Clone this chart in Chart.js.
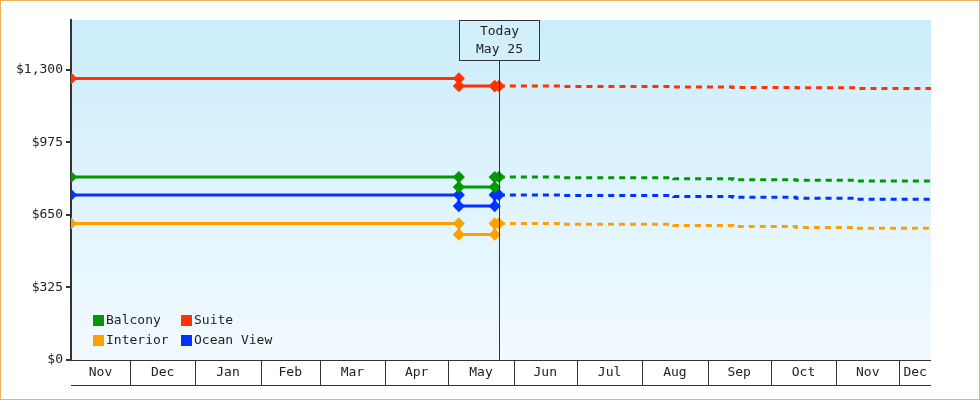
<!DOCTYPE html>
<html><head><meta charset="utf-8">
<script src="https://cdn.jsdelivr.net/npm/chart.js@4"></script>
<style>body{margin:0;background:#fff}</style></head><body>
<canvas id="c" width="980" height="400"></canvas>
<script>
// x values: days since Nov 1 (first year)
const monthLabels=["Nov","Dec","Jan","Feb","Mar","Apr","May","Jun","Jul","Aug","Sep","Oct","Nov","Dec"];
const monthStarts=[0,30,61,92,120,151,181,212,242,273,304,334,365,395];
const xMin=2, xMax=410;
const todayDay=205, todayLabel=["Today","May 25"];
const seriesNames=["Balcony","Suite","Interior","Ocean View"];
const seriesColors=["#009900","#ff3300","#ffa000","#0033ff"];
const histX=[2,186,186,203,203,205];
const balconyHist=[820,820,775,775,820,820];
const suiteHist=[1262,1262,1228,1228,1228,1228];
const interiorHist=[612,612,562,562,612,612];
const oceanHist=[740,740,690,690,740,740];
const futX=[205,234,288,316,346,374,410];
const balconyFut=[820,817,812,808,806,802,798];
const suiteFut=[1228,1226,1224,1222,1220,1217,1215];
const interiorFut=[612,608,603,598,594,590,587];
const oceanFut=[740,737,733,729,725,721,717];
const yTicks=[0,325,650,975,1300];

const hist=[balconyHist,suiteHist,interiorHist,oceanHist];
const fut=[balconyFut,suiteFut,interiorFut,oceanFut];
const FONT="13px 'DejaVu Sans Mono', monospace";
const datasets=[];
hist.forEach((h,i)=>datasets.push({label:seriesNames[i],data:h.map((v,j)=>({x:histX[j],y:v})),borderColor:seriesColors[i],backgroundColor:seriesColors[i],borderWidth:3,pointRadius:4,pointStyle:'rectRot',pointHoverRadius:4,tension:0}));
fut.forEach((f,i)=>datasets.push({label:seriesNames[i]+" forecast",data:f.map((v,j)=>({x:futX[j],y:v})),borderColor:seriesColors[i],borderWidth:3,borderDash:[6,5],pointRadius:0,stepped:true}));

const deco={id:'deco',
beforeDraw(ch){const {ctx,chartArea:a}=ch;const g=ctx.createLinearGradient(0,a.top,0,a.bottom);g.addColorStop(0,'#ccedfb');g.addColorStop(1,'#f2faff');ctx.fillStyle=g;ctx.fillRect(a.left,a.top,a.right-a.left,a.bottom-a.top);},
afterDraw(ch){const {ctx,chartArea:a,scales:{x}}=ch;ctx.save();
 // bottom month band
 ctx.strokeStyle='#333';ctx.lineWidth=1;ctx.beginPath();ctx.moveTo(a.left,a.bottom+0.5);ctx.lineTo(a.right,a.bottom+0.5);ctx.moveTo(a.left,a.bottom+25.5);ctx.lineTo(a.right,a.bottom+25.5);
 monthStarts.forEach(d=>{if(d>xMin){const px=Math.round(x.getPixelForValue(d))+0.5;ctx.moveTo(px,a.bottom);ctx.lineTo(px,a.bottom+25);}});ctx.stroke();
 ctx.font=FONT;ctx.fillStyle='#222';ctx.textAlign='center';ctx.textBaseline='middle';
 monthLabels.forEach((m,i)=>{const s=Math.max(monthStarts[i],xMin);const e=Math.min(i+1<monthStarts.length?monthStarts[i+1]:xMax+100,xMax);ctx.fillText(m,(x.getPixelForValue(s)+x.getPixelForValue(e))/2,a.bottom+13);});
 // today
 const tx=Math.round(x.getPixelForValue(todayDay))+0.5;ctx.beginPath();ctx.moveTo(tx,a.top+40);ctx.lineTo(tx,a.bottom);ctx.stroke();
 ctx.fillStyle='#d2f0fb';ctx.fillRect(tx-40,a.top,80,40);ctx.strokeRect(tx-40,a.top+0.5,80,40);
 ctx.fillStyle='#222';ctx.fillText(todayLabel[0],tx,a.top+12);ctx.fillText(todayLabel[1],tx,a.top+30);
 // legend
 ctx.textAlign='left';
 const pos=[[93,320],[181,320],[93,340],[181,340]];
 seriesNames.forEach((n,i)=>{ctx.fillStyle=seriesColors[i];ctx.fillRect(pos[i][0],pos[i][1]-5,11,11);ctx.fillStyle='#222';ctx.fillText(n,pos[i][0]+13,pos[i][1]+1);});
 // outer border
 ctx.strokeStyle='#f0b060';ctx.strokeRect(0.5,0.5,979,399);
 ctx.restore();}};

new Chart(document.getElementById('c'),{type:'line',data:{datasets},
options:{responsive:false,animation:false,layout:{padding:{top:20,bottom:40,right:49,left:0}},
plugins:{legend:{display:false},tooltip:{enabled:false}},
scales:{x:{type:'linear',min:xMin,max:xMax,display:false},
y:{min:0,max:1524,afterFit(s){s.width=71;},afterBuildTicks(s){s.ticks=yTicks.map(v=>({value:v}));},
ticks:{font:{family:"'DejaVu Sans Mono', monospace",size:13},color:'#222',padding:3,callback:v=>'$'+v.toLocaleString('en-US')},
grid:{drawOnChartArea:false,tickLength:5,color:'#333',lineWidth:2},border:{color:'#333',width:2}}}},
plugins:[deco]});
</script></body></html>
